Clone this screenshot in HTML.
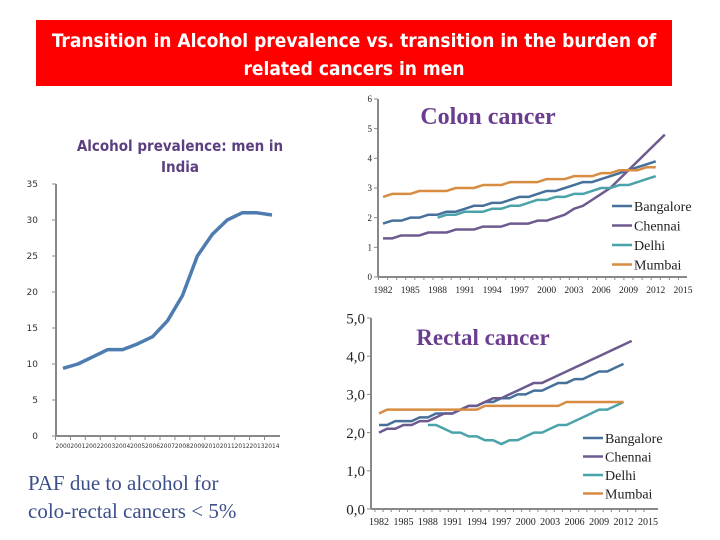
<!DOCTYPE html>
<html><head><meta charset="utf-8"><style>
html,body{margin:0;padding:0;background:#fff;}
svg{display:block;}
</style></head><body>
<svg id="s" width="720" height="540" viewBox="0 0 720 540" xmlns="http://www.w3.org/2000/svg">
<rect x="36" y="20" width="636" height="66" fill="#fe0000"/>
<text x="354" y="47" text-anchor="middle" fill="#fff" font-family="'DejaVu Sans Condensed','Liberation Sans Narrow','Liberation Sans',sans-serif" font-weight="bold" font-size="19">Transition in Alcohol prevalence vs. transition in the burden of</text>
<text x="354" y="75" text-anchor="middle" fill="#fff" font-family="'DejaVu Sans Condensed','Liberation Sans Narrow','Liberation Sans',sans-serif" font-weight="bold" font-size="19">related cancers in men</text>
<text x="180" y="151" text-anchor="middle" fill="#5b3f80" font-family="'DejaVu Sans Condensed','Liberation Sans',sans-serif" font-weight="bold" font-size="15">Alcohol prevalence: men in</text>
<text x="180" y="172" text-anchor="middle" fill="#5b3f80" font-family="'DejaVu Sans Condensed','Liberation Sans',sans-serif" font-weight="bold" font-size="15">India</text>
<text x="488" y="124" text-anchor="middle" fill="#6a3d8f" font-family="'Liberation Serif',serif" font-weight="bold" font-size="24">Colon cancer</text>
<text x="483" y="345" text-anchor="middle" fill="#6a3d8f" font-family="'Liberation Serif',serif" font-weight="bold" font-size="23">Rectal cancer</text>
<text x="28" y="490" fill="#3d4f8a" font-family="'Liberation Serif',serif" font-size="21">PAF due to alcohol for</text>
<text x="28" y="518" fill="#3d4f8a" font-family="'Liberation Serif',serif" font-size="21">colo-rectal cancers &lt; 5%</text>
<g id="g"></g>
</svg>
<script>
// Left chart data
const leftYears = [2000,2001,2002,2003,2004,2005,2006,2007,2008,2009,2010,2011,2012,2013,2014];
const leftValues = [9.4,10,11,12,12,12.8,13.8,16,19.5,25,28,30,31,31,30.7];
const leftTicks = [0,5,10,15,20,25,30,35];
// Colon chart data
const colonTickYears = [1982,1985,1988,1991,1994,1997,2000,2003,2006,2009,2012,2015];
const colonTicks = [0,1,2,3,4,5,6];
const colonBangalore = [1.8,1.9,1.9,2.0,2.0,2.1,2.1,2.2,2.2,2.3,2.4,2.4,2.5,2.5,2.6,2.7,2.7,2.8,2.9,2.9,3.0,3.1,3.2,3.2,3.3,3.4,3.5,3.6,3.7,3.8,3.9];
const colonChennai = [1.3,1.3,1.4,1.4,1.4,1.5,1.5,1.5,1.6,1.6,1.6,1.7,1.7,1.7,1.8,1.8,1.8,1.9,1.9,2.0,2.1,2.3,2.4,2.6,2.8,3.0,3.3,3.6,3.9,4.2,4.5,4.8];
const colonDelhi = [2.0,2.1,2.1,2.2,2.2,2.2,2.3,2.3,2.4,2.4,2.5,2.6,2.6,2.7,2.7,2.8,2.8,2.9,3.0,3.0,3.1,3.1,3.2,3.3,3.4];
const colonMumbai = [2.7,2.8,2.8,2.8,2.9,2.9,2.9,2.9,3.0,3.0,3.0,3.1,3.1,3.1,3.2,3.2,3.2,3.2,3.3,3.3,3.3,3.4,3.4,3.4,3.5,3.5,3.6,3.6,3.6,3.7,3.7];
// Rectal chart data
const rectalTicks = [0,1,2,3,4,5];
const rectalBangalore = [2.2,2.2,2.3,2.3,2.3,2.4,2.4,2.5,2.5,2.5,2.6,2.7,2.7,2.8,2.8,2.9,2.9,3.0,3.0,3.1,3.1,3.2,3.3,3.3,3.4,3.4,3.5,3.6,3.6,3.7,3.8];
const rectalChennai = [2.0,2.1,2.1,2.2,2.2,2.3,2.3,2.4,2.5,2.5,2.6,2.7,2.7,2.8,2.9,2.9,3.0,3.1,3.2,3.3,3.3,3.4,3.5,3.6,3.7,3.8,3.9,4.0,4.1,4.2,4.3,4.4];
const rectalDelhi = [2.2,2.2,2.1,2.0,2.0,1.9,1.9,1.8,1.8,1.7,1.8,1.8,1.9,2.0,2.0,2.1,2.2,2.2,2.3,2.4,2.5,2.6,2.6,2.7,2.8];
const rectalMumbai = [2.5,2.6,2.6,2.6,2.6,2.6,2.6,2.6,2.6,2.6,2.6,2.6,2.6,2.7,2.7,2.7,2.7,2.7,2.7,2.7,2.7,2.7,2.7,2.8,2.8,2.8,2.8,2.8,2.8,2.8,2.8];
const cityNames = ['Bangalore','Chennai','Delhi','Mumbai'];

const NS='http://www.w3.org/2000/svg';
const g=document.getElementById('g');
function mk(t,a){const e=document.createElementNS(NS,t);for(const k in a)e.setAttribute(k,a[k]);g.appendChild(e);return e;}
const cols={Bangalore:'#46709a',Chennai:'#6d5a8e',Delhi:'#4ba3aa',Mumbai:'#d88c42'};

// LEFT
const lx=i=>63+i*(209/14), ly=v=>436-v*7.2;
let e=mk('line',{x1:56,y1:184,x2:56,y2:436,stroke:'#888','stroke-width':2});


e=mk('line',{x1:56,y1:436,x2:280,y2:436,stroke:'#888','stroke-width':2});


leftTicks.forEach(v=>{
  mk('line',{x1:52,y1:ly(v),x2:56,y2:ly(v),stroke:'#888'});
  const t=mk('text',{x:38,y:ly(v)+3,'text-anchor':'end','font-size':9,fill:'#333','font-family':'DejaVu Sans,sans-serif'});
  t.textContent=v;
  
  
});
leftYears.forEach((y,i)=>{
  mk('line',{x1:lx(i)-7.5,y1:436,x2:lx(i)-7.5,y2:440,stroke:'#888'});
  const t=mk('text',{x:lx(i),y:448,'text-anchor':'middle','font-size':6.5,fill:'#333','font-family':'DejaVu Sans Condensed,sans-serif',textLength:15,lengthAdjust:'spacingAndGlyphs'});
  t.textContent=y;
  
  
});
e=mk('polyline',{points:leftValues.map((v,i)=>lx(i)+','+ly(v)).join(' '),fill:'none',stroke:'#4f7cb0','stroke-width':3.5,'stroke-linejoin':'round'});



function chart(prefix,ox,x0,dx,yb,py,ticks,xEnd,data,starts,yFmt,yFs,xFs,leg){
  const X=yr=>x0+(yr-1982)*dx, Y=v=>yb-v*py;
  let a=mk('line',{x1:ox,y1:Y(ticks[ticks.length-1]),x2:ox,y2:yb,stroke:'#888','stroke-width':2});
  
  
  a=mk('line',{x1:ox,y1:yb,x2:xEnd,y2:yb,stroke:'#888','stroke-width':2});
  
  
  ticks.forEach(v=>{
    mk('line',{x1:ox-4,y1:Y(v),x2:ox,y2:Y(v),stroke:'#888'});
    const t=mk('text',{x:ox-6,y:Y(v)+yFs*0.35,'text-anchor':'end','font-size':yFs,fill:'#222','font-family':'Liberation Serif,serif'});
    t.textContent=yFmt(v);
    
    
  });
  for(let yr=1982;yr<=2015;yr++) mk('line',{x1:X(yr)-dx/2,y1:yb,x2:X(yr)-dx/2,y2:yb+3,stroke:'#888'});
  colonTickYears.forEach(yr=>{
    const t=mk('text',{x:X(yr),y:yb+16,'text-anchor':'middle','font-size':xFs,fill:'#222','font-family':'Liberation Serif,serif'});
    t.textContent=yr;
    
    
  });
  cityNames.forEach((c,k)=>{
    const pl=mk('polyline',{points:data[k].map((v,i)=>X(starts[k]+i)+','+Y(v)).join(' '),fill:'none',stroke:cols[c],'stroke-width':2.5,'stroke-linejoin':'round'});
    
    
    const ly2=leg.y+k*leg.dy;
    const ll=mk('line',{x1:leg.x,y1:ly2,x2:leg.x+20,y2:ly2,stroke:cols[c],'stroke-width':2.5});
    
    
    const lt=mk('text',{x:leg.x+22,y:ly2+5,'font-size':14,fill:'#222','font-family':'Liberation Serif,serif'});
    lt.textContent=c;
    
    
  });
}
chart('colon',378,383,300/33,277,178/6,colonTicks,687,[colonBangalore,colonChennai,colonDelhi,colonMumbai],[1982,1982,1988,1982],v=>v,9,9.5,{x:612,y:206,dy:19.5});
chart('rectal',371,379,269/33,509,191/5,rectalTicks,658,[rectalBangalore,rectalChennai,rectalDelhi,rectalMumbai],[1982,1982,1988,1982],v=>v.toFixed(1).replace('.',','),15,10,{x:583,y:438,dy:18.5});
</script>
</body></html>
